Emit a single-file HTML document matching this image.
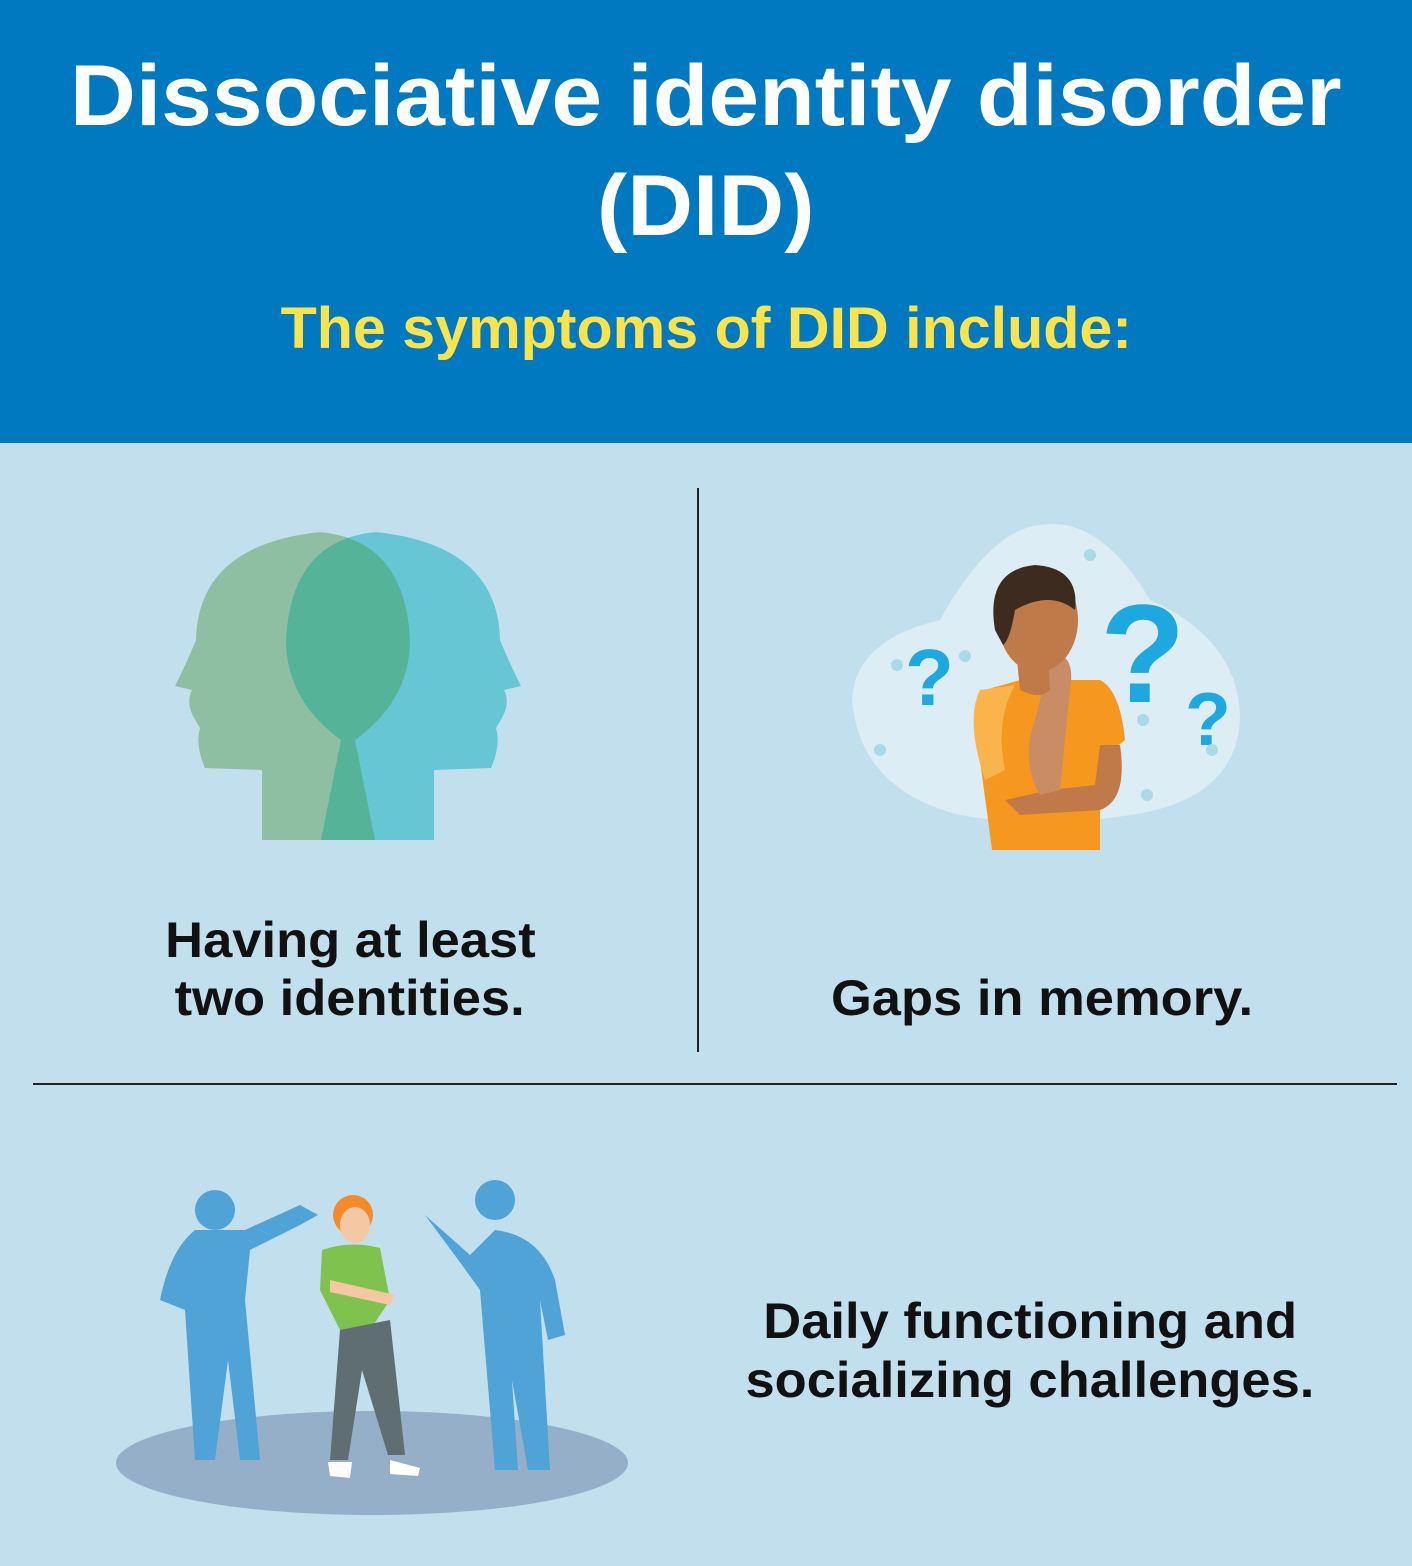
<!DOCTYPE html>
<html><head><meta charset="utf-8"><style>
body{margin:0;width:1412px;height:1566px;background:#c2dfee;position:relative;overflow:hidden;font-family:"Liberation Sans",sans-serif;}
.hdr{position:absolute;left:0;top:0;width:1412px;height:443px;background:#0079c1;}
.t{position:absolute;left:0;width:1412px;text-align:center;font-weight:bold;white-space:nowrap;}
.t span{display:inline-block;}
.lbl{position:absolute;text-align:center;font-weight:bold;color:#111;font-size:50px;line-height:58px;white-space:nowrap;}
.lbl span{display:inline-block;transform:scaleX(1.05);}
</style></head><body>
<div class="hdr"></div>
<div class="t" style="top:48px;font-size:86px;color:#fff;line-height:96px;"><span style="transform:scaleX(1.06)">Dissociative identity disorder</span></div>
<div class="t" style="top:158px;font-size:86px;color:#fff;line-height:96px;"><span style="transform:scaleX(1.06)">(DID)</span></div>
<div class="t" style="top:296px;font-size:58px;color:#fce34a;line-height:66px;"><span style="transform:scaleX(1.02)">The symptoms of DID include:</span></div>
<div style="position:absolute;left:697px;top:488px;width:2px;height:564px;background:#222"></div>
<div style="position:absolute;left:33px;top:1083px;width:1364px;height:2px;background:#222"></div>
<svg width="1412" height="1566" style="position:absolute;left:0;top:0">
<defs>
<path id="lh" d="M262 840 L262 770 L205 768 Q195 745 200 728 L193 716 Q186 702 192 690 L175 686 Q188 660 196 640 Q198 545 320 532 Q405 540 410 640 Q410 700 355 740 L375 840 Z"/>
<clipPath id="cr"><path transform="translate(696,0) scale(-1,1)" d="M262 840 L262 770 L205 768 Q195 745 200 728 L193 716 Q186 702 192 690 L175 686 Q188 660 196 640 Q198 545 320 532 Q405 540 410 640 Q410 700 355 740 L375 840 Z"/></clipPath>
</defs>
<use href="#lh" fill="#8fbfa2"/>
<use href="#lh" fill="#66c6d4" transform="translate(696,0) scale(-1,1)"/>
<use href="#lh" fill="#55b397" clip-path="url(#cr)"/>
<!-- memory -->
<path d="M1040 525 Q1100 515 1150 600 Q1240 640 1240 720 Q1235 800 1130 815 Q1040 830 960 815 Q860 790 852 700 Q855 640 940 620 Q990 530 1040 525Z" fill="#dcedf5"/>
<path d="M992 850 L980 760 Q970 700 985 690 L1020 680 L1100 680 Q1120 690 1125 740 L1100 760 L1100 850Z" fill="#f7981e"/>
<path d="M980 690 Q965 720 985 780 L1005 770 Q995 720 1015 685Z" fill="#fbb44c"/>
<path d="M1100 745 L1120 745 Q1128 800 1100 810 L1020 815 L1005 800 L1050 790 L1095 785Z" fill="#c07a4a"/>
<path d="M1045 680 Q1040 660 1060 655 Q1075 660 1070 690 L1060 790 L1040 795 Q1020 760 1035 720Z" fill="#c98c64"/>
<path d="M1017 660 L1020 690 Q1040 700 1050 690 L1048 655Z" fill="#c07a4a"/>
<ellipse cx="1038" cy="620" rx="40" ry="52" fill="#c07a4a"/>
<path d="M995 630 Q985 570 1035 565 Q1080 568 1075 610 Q1050 590 1015 610 Q1010 640 1003 645Z" fill="#3d2b1f"/>
<g fill="#1ea8e0" font-family="Liberation Sans" font-weight="bold">
<text x="905" y="705" font-size="80">?</text>
<text x="1100" y="702" font-size="140">?</text>
<text x="1185" y="745" font-size="75">?</text>
</g>
<g fill="#a9dbe6"><circle cx="1090" cy="555" r="6"/><circle cx="897" cy="665" r="6"/><circle cx="965" cy="656" r="6"/><circle cx="880" cy="750" r="6"/><circle cx="1143" cy="720" r="6"/><circle cx="1212" cy="750" r="6"/><circle cx="1147" cy="795" r="6"/></g>
<!-- social -->
<ellipse cx="372" cy="1463" rx="256" ry="52" fill="#96afc8"/>
<g fill="#4fa3d6">
<circle cx="215" cy="1210" r="20"/>
<path d="M195 1230 Q170 1250 160 1300 L185 1310 L195 1460 L215 1460 L228 1360 L240 1460 L260 1460 L245 1300 L250 1250 L300 1225 L318 1215 L300 1205 L245 1230Z"/>
<circle cx="495" cy="1200" r="20"/>
<path d="M425 1215 L470 1255 L495 1230 Q540 1235 555 1280 L565 1335 L548 1340 L540 1300 L550 1470 L528 1470 L512 1380 L518 1470 L495 1470 L480 1290 L462 1265Z"/>
</g>
<circle cx="353" cy="1215" r="20" fill="#f58a2a"/>
<ellipse cx="355" cy="1225" rx="15" ry="18" fill="#f6c7a3"/>
<path d="M322 1250 Q350 1240 380 1248 L390 1300 L370 1330 L340 1330 L320 1290Z" fill="#7fc24e"/>
<path d="M330 1280 L395 1295 L390 1305 L330 1292Z" fill="#f6c7a3"/>
<path d="M340 1330 L330 1460 L348 1460 L362 1370 L388 1455 L405 1455 L390 1320Z" fill="#5f6e72"/>
<path d="M328 1462 L352 1462 L350 1478 L330 1476Z M390 1460 L420 1468 L418 1476 L390 1474Z" fill="#fff"/>
</svg>
<div class="lbl" style="left:100px;width:500px;top:911px;"><span>Having at least</span></div>
<div class="lbl" style="left:100px;width:500px;top:969px;"><span>two identities.</span></div>
<div class="lbl" style="left:742px;width:600px;top:969px;"><span>Gaps in memory.</span></div>
<div class="lbl" style="left:680px;width:700px;top:1292px;"><span>Daily functioning and</span></div>
<div class="lbl" style="left:680px;width:700px;top:1351px;"><span>socializing challenges.</span></div>
</body></html>
